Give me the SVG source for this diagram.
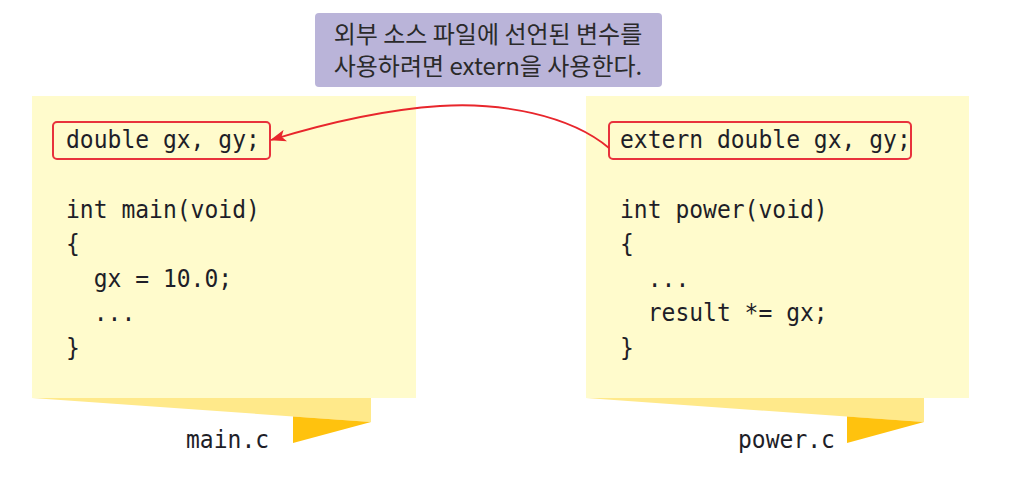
<svg xmlns="http://www.w3.org/2000/svg" width="1024" height="498" viewBox="0 0 1024 498">
<defs>
<style>
.paper{fill:#FFFBCC}
.fold{fill:#FFE98A}
.tab{fill:#FFC20E}
.code{font-family:"DejaVu Sans Mono","Liberation Mono",monospace;font-size:25px;fill:#1E1E28}
.hl{fill:none;stroke:#E8323C;stroke-width:2}
.note{font-family:"Noto Sans CJK KR","Noto Sans",sans-serif;font-size:24px;fill:#2A2A2A;text-anchor:middle}
</style>
<marker id="ah" viewBox="0 0 16 12" markerWidth="16" markerHeight="12" refX="15" refY="6" orient="auto" markerUnits="userSpaceOnUse">
<path d="M0,0 L16,6 L0,12 L4,6 Z" fill="#E8262C"/>
</marker>
</defs>
<rect width="1024" height="498" fill="#FFFFFF"/>

<g id="callout">
<rect x="315" y="13" width="347" height="74" rx="4" fill="#BAB4D9"/>
<text class="note" x="488" y="43">외부 소스 파일에 선언된 변수를</text>
<text class="note" x="488" y="75">사용하려면 extern을 사용한다.</text>
</g>

<g id="main-c">
<rect class="paper" x="32" y="96" width="384" height="302"/>
<polygon class="fold" points="32,398 371,398 371,422"/>
<polygon class="tab" points="293,416.5 371,422 293,443"/>
<rect class="hl" x="53" y="122" width="217" height="37" rx="4"/>
<g transform="translate(66,0) scale(0.92,1)">
<text class="code" x="0" y="148">double gx, gy;</text>
<text class="code" x="0" y="218">int main(void)</text>
<text class="code" x="0" y="252.5">{</text>
<text class="code" x="0" y="287" xml:space="preserve">  gx = 10.0;</text>
<text class="code" x="0" y="321.5" xml:space="preserve">  ...</text>
<text class="code" x="0" y="356">}</text>
</g>
<g transform="translate(186,0) scale(0.92,1)">
<text class="code" x="0" y="448">main.c</text>
</g>
</g>

<g id="power-c">
<rect class="paper" x="586" y="96" width="383" height="302"/>
<polygon class="fold" points="586,398 924,398 924,422"/>
<polygon class="tab" points="847,416.5 924,422 847,443"/>
<rect class="hl" x="609" y="122" width="302" height="37" rx="4"/>
<g transform="translate(620,0) scale(0.92,1)">
<text class="code" x="0" y="148">extern double gx, gy;</text>
<text class="code" x="0" y="218">int power(void)</text>
<text class="code" x="0" y="252.5">{</text>
<text class="code" x="0" y="287" xml:space="preserve">  ...</text>
<text class="code" x="0" y="321.5" xml:space="preserve">  result *= gx;</text>
<text class="code" x="0" y="356">}</text>
</g>
<g transform="translate(738,0) scale(0.92,1)">
<text class="code" x="0" y="448">power.c</text>
</g>
</g>

<g id="connectors">
<path d="M609,148 C570,115 500,102 440,106 C380,110 320,125 271,140" fill="none" stroke="#E8262C" stroke-width="1.8" marker-end="url(#ah)"/>
</g>
</svg>
